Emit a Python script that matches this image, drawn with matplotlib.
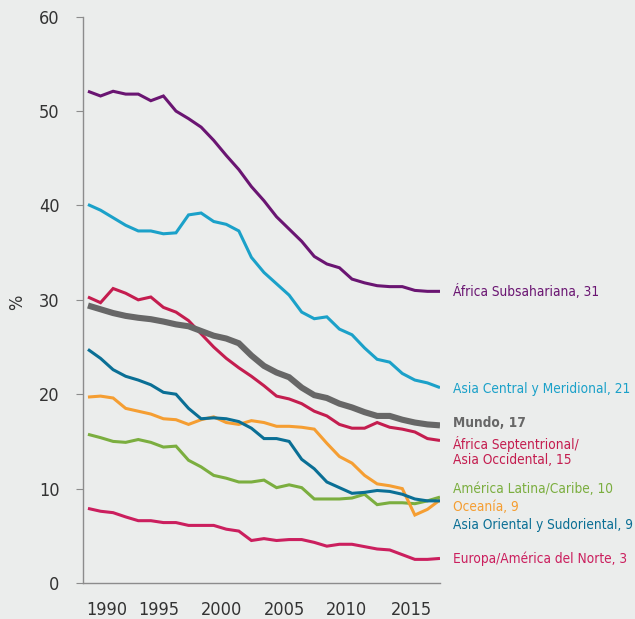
import matplotlib
matplotlib.use("Agg")
import matplotlib.pyplot as plt
from matplotlib import font_manager as fm
import numpy as np

years = np.arange(1990, 2019)

subsahariana = [52.1, 51.6, 52.1, 51.8, 51.8, 51.1, 51.6, 50.0, 49.2, 48.3,
                46.9, 45.3, 43.8, 42.0, 40.5, 38.8, 37.5, 36.2, 34.6, 33.8,
                33.4, 32.2, 31.8, 31.5, 31.4, 31.4, 31.0, 30.9, 30.9]
asia_central = [40.1, 39.5, 38.7, 37.9, 37.3, 37.3, 37.0, 37.1, 39.0, 39.2,
                38.3, 38.0, 37.3, 34.5, 32.9, 31.7, 30.5, 28.7, 28.0, 28.2,
                26.9, 26.3, 24.9, 23.7, 23.4, 22.2, 21.5, 21.2, 20.7]
mundo = [29.4, 29.0, 28.6, 28.3, 28.1, 27.95, 27.7, 27.4, 27.2, 26.7,
         26.2, 25.9, 25.4, 24.1, 23.0, 22.3, 21.8, 20.7, 19.9, 19.6,
         19.0, 18.6, 18.1, 17.7, 17.7, 17.3, 17.0, 16.8, 16.7]
africa_sept = [30.3, 29.7, 31.2, 30.7, 30.0, 30.3, 29.2, 28.7, 27.8, 26.4,
               25.0, 23.8, 22.8, 21.9, 20.9, 19.8, 19.5, 19.0, 18.2, 17.7,
               16.8, 16.4, 16.4, 17.0, 16.5, 16.3, 16.0, 15.3, 15.1]
america_latina = [15.75, 15.4, 15.0, 14.9, 15.2, 14.9, 14.4, 14.5, 13.0, 12.3,
                  11.4, 11.1, 10.7, 10.7, 10.9, 10.1, 10.4, 10.1, 8.9, 8.9,
                  8.9, 9.0, 9.4, 8.3, 8.5, 8.5, 8.4, 8.7, 9.1]
oceania = [19.7, 19.8, 19.6, 18.5, 18.2, 17.9, 17.4, 17.3, 16.8, 17.3,
           17.6, 17.0, 16.8, 17.2, 17.0, 16.6, 16.6, 16.5, 16.3, 14.8,
           13.4, 12.7, 11.4, 10.5, 10.3, 10.0, 7.2, 7.8, 8.8]
asia_oriental = [24.75, 23.8, 22.6, 21.9, 21.5, 21.0, 20.2, 20.0, 18.5, 17.4,
                 17.5, 17.4, 17.1, 16.4, 15.3, 15.3, 15.0, 13.1, 12.1, 10.7,
                 10.1, 9.5, 9.6, 9.8, 9.7, 9.4, 8.9, 8.7, 8.7]
europa = [7.9, 7.6, 7.45, 7.0, 6.6, 6.6, 6.4, 6.4, 6.1, 6.1,
          6.1, 5.7, 5.5, 4.5, 4.7, 4.5, 4.6, 4.6, 4.3, 3.9,
          4.1, 4.1, 3.85, 3.6, 3.5, 3.0, 2.5, 2.5, 2.6]

labels = ["África Subsahariana, 31", "Asia Central y Meridional, 21", "Mundo, 17",
          "África Septentrional/\nAsia Occidental, 15", "América Latina/Caribe, 10",
          "Oceanía, 9", "Asia Oriental y Sudoriental, 9", "Europa/América del Norte, 3"]
series = [subsahariana, asia_central, mundo, africa_sept, america_latina,
          oceania, asia_oriental, europa]
colors = ["#6A1572", "#1BA1C9", "#676767", "#C41D4F", "#7BAE3F",
          "#F59E32", "#0A6F95", "#CB1F5E"]
label_y = [30.9, 20.6, 17.0, 13.9, 10.0, 8.0, 6.1, 2.55]

xtick_pos = [1991.5, 1995.6, 2000.6, 2005.6, 2010.6, 2015.7]
xtick_lab = ["1990", "1995", "2000", "2005", "2010", "2015"]

bg = "#EBEDEC"


def wnum(w):
    if isinstance(w, str):
        return fm.weight_dict.get(w.lower(), 400)
    return w


def find_condensed(bold):
    # look for a narrow / condensed face, the original uses a condensed sans
    for f in fm.fontManager.ttflist:
        narrow = ("ondensed" in str(f.stretch) or "Narrow" in f.name
                  or "Condensed" in f.name or "Narrow" in f.fname)
        if not narrow or f.style != "normal":
            continue
        w = wnum(f.weight)
        if (bold and w >= 600) or (not bold and 350 <= w <= 500):
            return f.fname
    return None


reg = find_condensed(False)
bld = find_condensed(True)


def fprop(size, bold=False):
    path = bld if bold else reg
    if path is not None:
        return fm.FontProperties(fname=path, size=size)
    return fm.FontProperties(family="Roboto", size=size,
                             weight="bold" if bold else "normal")


fig = plt.figure(figsize=(6.35, 6.19), dpi=100, facecolor=bg)
ax = fig.add_axes([0.1312, 0.0582, 0.5617, 0.9148], facecolor=bg)

order = [1, 0, 3, 4, 5, 6, 7, 2]
for i in order:
    lw = 4.4 if i == 2 else 2.2
    ax.plot(years, series[i], color=colors[i], lw=lw, solid_joinstyle="miter",
            solid_capstyle="butt", zorder=3 if i == 2 else 2)

size = 12.5
texts = []
for i, lab in enumerate(labels):
    t = ax.text(2019.05, label_y[i], lab, color=colors[i],
                fontproperties=fprop(size, i == 2),
                va="center", ha="left", linespacing=1.1, clip_on=False)
    texts.append(t)

# shrink the labels if the font is too wide for the space on the right
fig.canvas.draw()
r = fig.canvas.get_renderer()
widest = max(t.get_window_extent(r).width for t in texts)
if widest > 181:
    size = size * 181 / widest
    for i, t in enumerate(texts):
        t.set_fontproperties(fprop(size, i == 2))

ax.set_xlim(1989.63, 2018)
ax.set_ylim(0, 60)
ax.set_yticks(range(0, 61, 10))
ax.set_xticks(xtick_pos)
ax.set_xticklabels(xtick_lab)
tick_fp = fprop(13)
for lab in ax.get_xticklabels() + ax.get_yticklabels():
    lab.set_fontproperties(tick_fp)

for s in ["top", "right"]:
    ax.spines[s].set_visible(False)
for s in ["left", "bottom"]:
    ax.spines[s].set_color("#8C8C8C")
    ax.spines[s].set_linewidth(1.0)

ax.tick_params(axis="y", length=5, color="#8C8C8C", pad=12, labelcolor="#333333")
ax.tick_params(axis="x", length=0, pad=13, labelcolor="#333333")
fig.text(17 / 635, 1 - 302 / 619, "%", rotation=90, ha="center", va="center",
         fontproperties=fprop(13), color="#333333")

fig.savefig("out.png", dpi=100, facecolor=bg)
